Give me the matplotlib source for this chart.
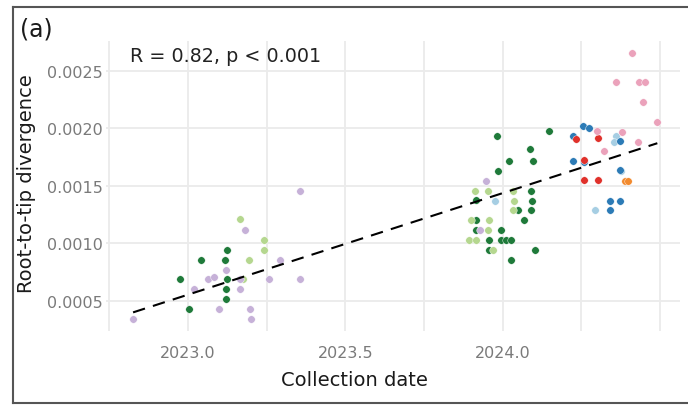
import matplotlib
matplotlib.use("Agg")
import matplotlib.pyplot as plt
from matplotlib.lines import Line2D
import numpy as np

plt.rcParams['font.family'] = ['DejaVu Sans']

# collection date (decimal year) and root-to-tip divergence, one pair of lists per group
dkgreen_x = [2022.975, 2023.005, 2023.042, 2023.117, 2023.125, 2023.125, 2023.122, 2023.122,
             2023.982, 2024.147, 2024.086, 2024.021, 2024.097, 2023.986, 2024.089, 2023.916,
             2024.093, 2024.049, 2024.090, 2023.916, 2024.069, 2023.916, 2023.993, 2023.957,
             2023.993, 2024.010, 2024.026, 2023.956, 2024.103, 2024.026]
dkgreen_y = [0.000689, 0.000428, 0.000857, 0.000857, 0.000941, 0.000689, 0.000602, 0.000515,
             0.001935, 0.001978, 0.001819, 0.001717, 0.001717, 0.001630, 0.001457, 0.001376,
             0.001370, 0.001289, 0.001289, 0.001202, 0.001202, 0.001115, 0.001119, 0.001028,
             0.001028, 0.001028, 0.001028, 0.000943, 0.000943, 0.000858]

ltgreen_x = [2023.165, 2023.175, 2023.195, 2023.243, 2023.241, 2023.912, 2023.952, 2024.034,
             2024.035, 2024.033, 2023.900, 2023.955, 2023.952, 2023.893, 2023.916, 2023.969]
ltgreen_y = [0.001210, 0.000689, 0.000857, 0.001028, 0.000941, 0.001457, 0.001457, 0.001457,
             0.001370, 0.001289, 0.001202, 0.001202, 0.001115, 0.001028, 0.001028, 0.000941]

purple_x = [2022.826, 2023.021, 2023.064, 2023.084, 2023.098, 2023.120, 2023.165, 2023.165,
            2023.196, 2023.202, 2023.181, 2023.294, 2023.257, 2023.355, 2023.356, 2023.948,
            2023.927]
purple_y = [0.000341, 0.000602, 0.000689, 0.000702, 0.000428, 0.000770, 0.000689, 0.000602,
            0.000428, 0.000341, 0.001115, 0.000857, 0.000689, 0.000689, 0.001457, 0.001543,
            0.001115]

ltblue_x = [2023.977, 2024.361, 2024.353, 2024.377, 2024.293]
ltblue_y = [0.001370, 0.001935, 0.001884, 0.001628, 0.001293]

blue_x = [2024.255, 2024.274, 2024.224, 2024.373, 2024.222, 2024.258, 2024.372, 2024.342,
          2024.373, 2024.342]
blue_y = [0.002019, 0.001999, 0.001932, 0.001886, 0.001712, 0.001703, 0.001637, 0.001371,
          0.001371, 0.001293]

red_x = [2024.232, 2024.301, 2024.258, 2024.258, 2024.301]
red_y = [0.001906, 0.001912, 0.001723, 0.001550, 0.001550]

pink_x = [2024.409, 2024.360, 2024.434, 2024.452, 2024.446, 2024.491, 2024.298, 2024.379,
          2024.430, 2024.321]
pink_y = [0.002654, 0.002399, 0.002399, 0.002399, 0.002225, 0.002057, 0.001973, 0.001971,
          0.001884, 0.001799]

orange_x = [2024.389, 2024.399]
orange_y = [0.001541, 0.001541]

x_major = [2023.0, 2023.5, 2024.0]
x_minor = [2022.75, 2023.25, 2023.75, 2024.25, 2024.5]
y_ticks = [0.0005, 0.0010, 0.0015, 0.0020, 0.0025]
stat_label = "R = 0.82, p < 0.001"

groups = [
    (dkgreen_x, dkgreen_y, "#1f7a3a"),
    (ltgreen_x, ltgreen_y, "#b5d78f"),
    (purple_x, purple_y, "#c6b1d8"),
    (ltblue_x, ltblue_y, "#a6cee3"),
    (blue_x, blue_y, "#2c7bb6"),
    (red_x, red_y, "#e0312b"),
    (pink_x, pink_y, "#eba2bb"),
    (orange_x, orange_y, "#f28a2e"),
]

fig = plt.figure(figsize=(6.88, 4.06), dpi=100)
ax = fig.add_axes([106 / 688, 1 - 331.7 / 406, 574 / 688, 290 / 406])

for gx, gy, col in groups:
    ax.scatter(gx, gy, s=29, color=col, edgecolors="white", linewidths=0.3, zorder=3)

# linear fit over all samples
all_x = np.concatenate([np.array(g[0]) for g in groups])
all_y = np.concatenate([np.array(g[1]) for g in groups])
slope, intercept = np.polyfit(all_x, all_y, 1)
xs = np.array([all_x.min(), all_x.max()])
ax.plot(xs, slope * xs + intercept, color="black", lw=1.5, ls=(0, (6, 4)), zorder=4)

ax.set_xlim(2022.74, 2024.563)
ax.set_ylim(0.000239, 0.002761)
ax.set_xticks(x_major)
ax.set_xticks(x_minor, minor=True)
ax.set_xticklabels([f"{v:.1f}" for v in x_major])
ax.set_yticks(y_ticks)
ax.set_yticklabels([f"{v:.4f}" for v in y_ticks])
ax.grid(True, which="both", color="#ebebeb", lw=1.3)
ax.set_axisbelow(True)
for s in ax.spines.values():
    s.set_visible(False)
ax.tick_params(which="both", length=0, labelsize=11.5, labelcolor="#7a7a7a")
ax.tick_params(axis="x", pad=10)
ax.tick_params(axis="y", pad=2)

ax.text(2022.816, 0.002628, stat_label, fontsize=13.8, color="#222222", va="center", ha="left")

fig.text(354 / 688, 1 - 386 / 406, "Collection date", fontsize=14, color="#1a1a1a",
         ha="center", va="baseline")
fig.text(27 / 688, 1 - 184 / 406, "Root-to-tip divergence", fontsize=14, color="#1a1a1a",
         ha="center", va="center", rotation=90)
fig.text(20 / 688, 1 - 30 / 406, "(a)", fontsize=17, color="#1a1a1a", ha="left", va="center")

# outer panel frame (open on the right)
fc = "#555555"
fig.add_artist(Line2D([13 / 688, 1], [1 - 8 / 406, 1 - 8 / 406], color=fc, lw=1.5))
fig.add_artist(Line2D([13 / 688, 13 / 688], [1 - 8 / 406, 1 - 404 / 406], color=fc, lw=1.5))
fig.add_artist(Line2D([13 / 688, 1], [1 - 404 / 406, 1 - 404 / 406], color=fc, lw=1.5))

fig.savefig("out.png", dpi=100)
